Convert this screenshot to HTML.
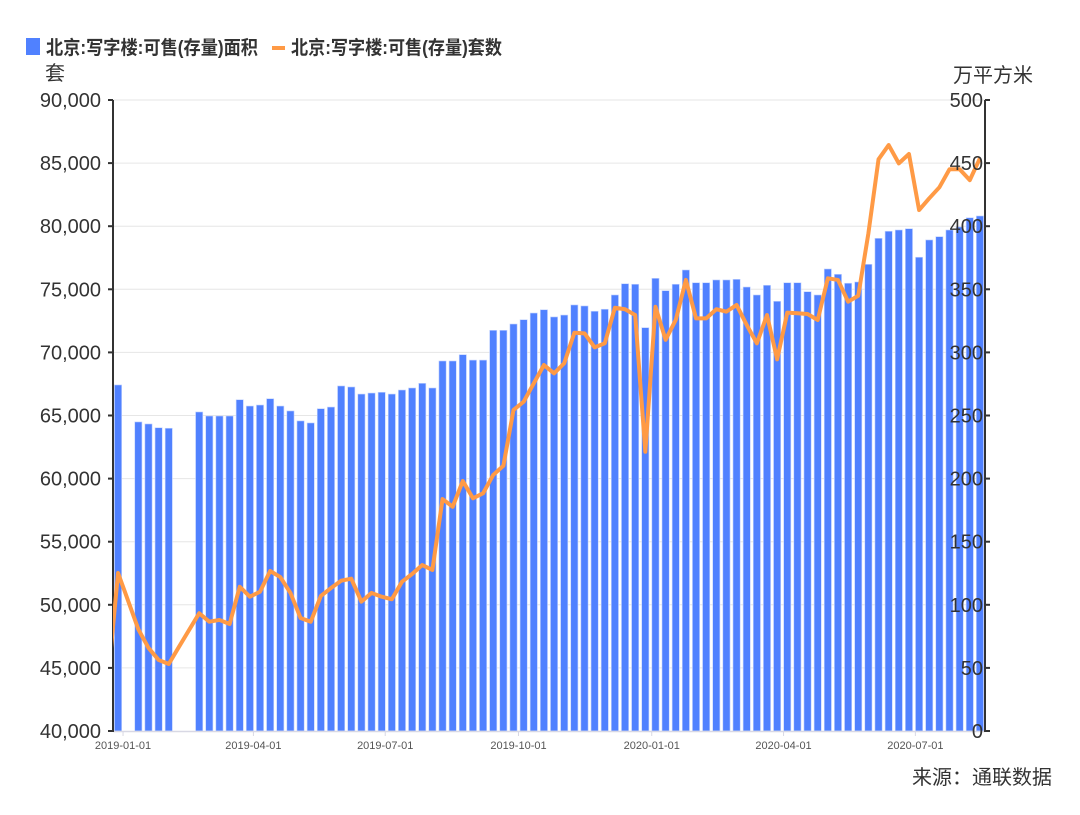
<!DOCTYPE html>
<html><head><meta charset="utf-8">
<style>
html,body{margin:0;padding:0;background:#fff;}
body{width:1080px;height:810px;overflow:hidden;font-family:"Liberation Sans","Noto Sans CJK SC",sans-serif;}
</style></head>
<body>
<svg id="chart" width="1080" height="810" xmlns="http://www.w3.org/2000/svg" font-family="Liberation Sans, Noto Sans CJK SC, sans-serif"></svg>
<script>
const areaValues=[274.2,null,244.9,243.3,240.3,239.9,null,null,252.8,249.6,249.6,249.6,262.5,257.5,258.3,263.3,257.5,253.6,245.7,244.1,255.4,256.7,273.4,272.6,267.0,267.8,268.4,267.0,270.2,271.8,275.5,271.8,293.2,293.2,298.2,293.9,293.9,317.5,317.5,322.5,325.9,331.2,333.8,328.1,329.6,337.6,336.8,332.6,334.2,345.5,354.4,354.0,319.6,358.7,348.9,354.0,365.3,355.2,355.2,357.4,357.4,357.9,351.8,345.5,353.2,340.5,355.2,355.2,348.1,345.5,366.1,361.9,354.8,355.8,369.8,390.4,396.0,397.0,398.0,375.4,389.1,391.7,397.0,399.4,406.7,408.1];
const countValues=[52520,50300,48060,46580,45630,45310,46660,48000,49330,48660,48800,48480,51430,50640,51040,52680,52200,50940,48950,48660,50700,51330,51910,52070,50250,50940,50640,50440,51830,52440,53150,52760,58380,57770,59810,58440,58840,60290,61020,65440,66090,67550,69000,68340,69140,71560,71510,70400,70720,73540,73420,72960,62130,73620,71000,72570,75740,72700,72700,73420,73230,73760,72170,70720,72960,69450,73150,73100,73040,72570,75870,75740,74020,74490,79440,85300,86430,84980,85720,81280,82210,83080,84510,84510,83650,85380];
const countPrev=44000;
const leftTicks=[40000,45000,50000,55000,60000,65000,70000,75000,80000,85000,90000];
const rightTicks=[0,50,100,150,200,250,300,350,400,450,500];
const dateTicks=["2019-01-01","2019-04-01","2019-07-01","2019-10-01","2020-01-01","2020-04-01","2020-07-01"];

const NS="http://www.w3.org/2000/svg";
const svg=document.getElementById('chart');
const X0=113,X1=985,Y0=731,Y1=100,N=areaValues.length,band=(X1-X0)/N;
const xIdx=i=>X0+band*(i+0.5);
const yL=v=>Y0-(v-40000)/50000*(Y0-Y1);
const yR=v=>Y0-v/500*(Y0-Y1);
const dayMs=86400000,base=Date.UTC(2019,0,1);
const xDate=s=>{const p=s.split('-');const d=(Date.UTC(+p[0],+p[1]-1,+p[2])-base)/dayMs;return xIdx(0.49+d/7);};
function mk(t,a,p){const e=document.createElementNS(NS,t);for(const k in a)e.setAttribute(k,a[k]);(p||svg).appendChild(e);return e;}

// grid + left ticks
leftTicks.forEach((v,i)=>{
  const y=yL(v);
  if(i>0){const g=mk('line',{x1:X0,x2:X1,y1:y,y2:y,stroke:'#e6e6e6','stroke-width':1});
  
  }
  const tk=mk('line',{x1:X0-5,x2:X0,y1:y,y2:y,stroke:'#333','stroke-width':2});
  
  
  const t=mk('text',{x:X0-12,y:y+7,'text-anchor':'end','font-size':20,fill:'#333'});
  t.textContent=v.toLocaleString('en-US');
  
  
});

// bars
areaValues.forEach((v,i)=>{
  if(v==null)return;
  const y=yR(v);
  const r=mk('rect',{x:xIdx(i)-3.6,y:y,width:7.2,height:Y0-y,fill:'#5081ff',stroke:'#c4d4ff','stroke-width':0.6});
  
  
});

// x axis
const xa=mk('line',{x1:X0,x2:X1,y1:Y0+0.5,y2:Y0+0.5,stroke:'#d8d8e4','stroke-width':1.5});


dateTicks.forEach(d=>{
  const x=xDate(d);
  const tk=mk('line',{x1:x,x2:x,y1:Y0,y2:Y0+5,stroke:'#d8d8e4','stroke-width':1});
  
  
  const t=mk('text',{x:x,y:Y0+18,'text-anchor':'middle','font-size':11,fill:'#555'});
  t.textContent=d;
  
  
});

// y axes lines
const la=mk('line',{x1:X0,x2:X0,y1:Y1,y2:Y0+1,stroke:'#333','stroke-width':2});


const ra=mk('line',{x1:X1,x2:X1,y1:Y1,y2:Y0+1,stroke:'#333','stroke-width':2});



// line
const defs=mk('defs',{});
const cp=mk('clipPath',{id:'clip'},defs);
mk('rect',{x:X0,y:0,width:X1-X0,height:810},cp);
let pts=[[xIdx(-1),yL(countPrev)]].concat(countValues.map((v,i)=>[xIdx(i),yL(v)]));
const pl=mk('polyline',{points:pts.map(p=>p.join(',')).join(' '),fill:'none',stroke:'#ff9a45','stroke-width':4,'stroke-linejoin':'round','clip-path':'url(#clip)'});



// right ticks (drawn over bars)
rightTicks.forEach(v=>{
  const y=yR(v);
  const tk=mk('line',{x1:X1,x2:X1+5,y1:y,y2:y,stroke:'#333','stroke-width':2});
  
  
  const t=mk('text',{x:X1-2,y:y+7,'text-anchor':'end','font-size':20,fill:'#333'});
  t.textContent=v;
  
  
});

// axis titles
const lt=mk('text',{x:55,y:80,'text-anchor':'middle','font-size':20,fill:'#333'});
lt.textContent='套';


const rt=mk('text',{x:993,y:82,'text-anchor':'middle','font-size':20,fill:'#333'});
rt.textContent='万平方米';



// legend
const lg=mk('g',{});


const l1=mk('g',{},lg);


mk('rect',{x:26,y:38,width:14,height:17,fill:'#5081ff'},l1);
const t1=mk('text',{x:46,y:54,'font-size':19,'font-weight':'bold',fill:'#333',textLength:212,lengthAdjust:'spacingAndGlyphs'},l1);
t1.textContent='北京:写字楼:可售(存量)面积';
const l2=mk('g',{},lg);


mk('rect',{x:272,y:46,width:13,height:4,fill:'#ff9a45'},l2);
const t2=mk('text',{x:291,y:54,'font-size':19,'font-weight':'bold',fill:'#333',textLength:211,lengthAdjust:'spacingAndGlyphs'},l2);
t2.textContent='北京:写字楼:可售(存量)套数';

const src=mk('text',{x:1052,y:784,'text-anchor':'end','font-size':20,fill:'#333'});
src.textContent='来源：通联数据';


</script>
</body></html>
